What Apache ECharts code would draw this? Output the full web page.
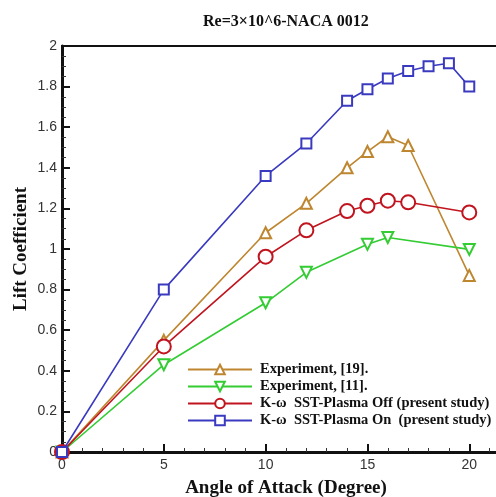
<!DOCTYPE html>
<html><head><meta charset="utf-8">
<script src="https://cdn.jsdelivr.net/npm/echarts@6/dist/echarts.min.js"></script>
<style>html,body{margin:0;padding:0;background:#fff}#c{width:496px;height:497px}</style>
</head><body><div id="c"></div>
<script>
const seriesNames = ['Experiment, [19].', 'Experiment, [11].', 'K-\u03c9  SST-Plasma Off (present study)', 'K-\u03c9  SST-Plasma On  (present study)'];
const exp19 = [[0,0],[5,0.55],[10,1.08],[12,1.225],[14,1.40],[15,1.48],[16,1.553],[17,1.51],[20,0.87]];
const exp11 = [[0,0],[5,0.43],[10,0.735],[12,0.885],[15,1.023],[16,1.057],[20,0.998]];
const plasmaOff = [[0,0],[5,0.52],[10,0.962],[12,1.092],[14,1.187],[15,1.213],[16,1.238],[17,1.23],[20,1.18]];
const plasmaOn = [[0,0],[5,0.80],[10,1.36],[12,1.52],[14,1.73],[15,1.787],[16,1.84],[17,1.877],[18,1.90],[19,1.915],[20,1.80]];
const xTicks = [0,5,10,15,20];
const yTicks = [0,0.2,0.4,0.6,0.8,1,1.2,1.4,1.6,1.8,2];

const colors = ['#BF8630','#33CC33','#C0141E','#3A3AC0'];
const symbols = ['emptyTriangle','emptyTriangle','emptyCircle','emptyRect'];
const sizes = [11,11,14,10];
const rot = [0,180,0,0];
const datas = [exp19, exp11, plasmaOff, plasmaOn];

const chart = echarts.init(document.getElementById('c'));
chart.setOption({
  animation:false,
  backgroundColor:'#fff',
  title:{text:'Re=3\u00d710^6-NACA 0012', left:198, top:9,
    textStyle:{fontFamily:'Liberation Serif', fontWeight:'bold', fontSize:16, color:'#111'}},
  grid:{left:62, top:46, width:448, bottom:45, outerBoundsMode:'none', containLabel:false,
    show:true, borderColor:'#111', borderWidth:2, backgroundColor:'transparent'},
  legend:{orient:'vertical', left:182, top:357, itemWidth:64, itemHeight:12, itemGap:2,
    data:seriesNames,
    textStyle:{fontFamily:'Liberation Serif', fontWeight:'bold', fontSize:14.5, lineHeight:14, color:'#111', padding:[0,0,0,3]}},
  xAxis:{type:'value', min:0, max:22, interval:5,
    name:'Angle of Attack (Degree)', nameLocation:'middle', nameGap:27, nameMoveOverlap:false,
    nameTextStyle:{fontFamily:'Liberation Serif', fontWeight:'bold', fontSize:19, color:'#111'},
    axisLine:{lineStyle:{color:'#111', width:3}},
    axisTick:{inside:true, length:8, lineStyle:{width:2, color:'#111'}},
    minorTick:{show:true, splitNumber:5, length:4, lineStyle:{color:'#333', width:1}},
    splitLine:{show:false},
    axisLabel:{fontFamily:'Liberation Sans', fontSize:14, color:'#333', margin:6,
      formatter:v=> xTicks.includes(v) ? String(v) : ''}},
  yAxis:{type:'value', min:0, max:2, interval:0.2,
    name:'Lift Coefficient', nameLocation:'middle', nameGap:31, nameMoveOverlap:false,
    nameTextStyle:{fontFamily:'Liberation Serif', fontWeight:'bold', fontSize:19, color:'#111'},
    axisLine:{lineStyle:{color:'#111', width:3}},
    axisTick:{inside:true, length:8, lineStyle:{width:2, color:'#111'}},
    minorTick:{show:true, splitNumber:4, length:4, lineStyle:{color:'#333', width:1}},
    splitLine:{show:false},
    axisLabel:{fontFamily:'Liberation Sans', fontSize:14, color:'#333', margin:5,
      formatter:v=>{const t=yTicks.find(a=>Math.abs(a-v)<1e-9); return t===undefined?'':String(t);}}},
  series: seriesNames.map((n,i)=>({
    name:n, type:'line', data:datas[i], symbol:symbols[i], symbolSize:sizes[i], symbolRotate:rot[i],
    showAllSymbol:true, z:2+i,
    lineStyle:{color:colors[i], width:1.6},
    itemStyle:{color:colors[i], borderColor:colors[i], borderWidth:1.4}
  }))
});
</script></body></html>
